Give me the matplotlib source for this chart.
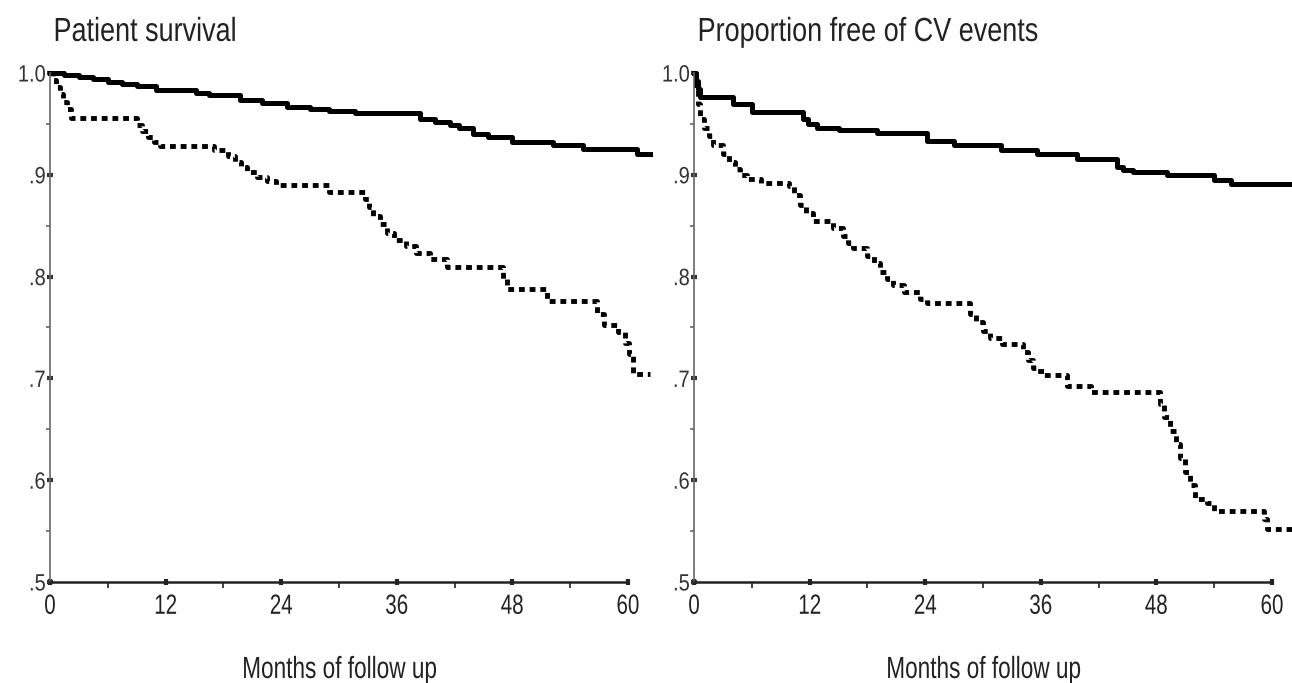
import matplotlib
matplotlib.use("Agg")
import matplotlib.pyplot as plt
from matplotlib.ticker import FixedLocator
from matplotlib.patheffects import AbstractPathEffect
from matplotlib.transforms import Affine2D, blended_transform_factory

plt.rcParams['font.family'] = ['Liberation Sans', 'DejaVu Sans']

# --- data (Kaplan-Meier steps: time in months, proportion) ---
surv_t_a = [0, 1.5, 3, 4.5, 6, 7.5, 9, 11, 15.2, 16.5, 19.7, 22, 24.6, 27, 29, 31.7,
            38.4, 40, 41.5, 42.5, 43.9, 45.5, 48, 52.2, 55.3, 61, 62.3]
surv_v_a = [1.0, 0.998, 0.996, 0.994, 0.991, 0.989, 0.987, 0.983, 0.980, 0.978, 0.973,
            0.971, 0.967, 0.965, 0.963, 0.961, 0.955, 0.952, 0.949, 0.946, 0.940, 0.937,
            0.932, 0.929, 0.925, 0.920, 0.920]

surv_t_b = [0, 0.3, 0.6, 1.0, 1.4, 1.8, 2.2, 9, 9.6, 10.2, 10.8, 11.4, 17, 18.5, 19.2,
            19.8, 20.5, 21.5, 22.5, 23.5, 29, 32.7, 33.1, 33.5, 34.3, 35, 35.7, 37, 38,
            39.5, 41.2, 47, 47.5, 51.6, 56.8, 57.5, 59, 59.7, 60.1, 60.5, 62.3]
surv_v_b = [1.0, 0.993, 0.986, 0.979, 0.972, 0.965, 0.956, 0.949, 0.943, 0.937, 0.932,
            0.928, 0.924, 0.918, 0.913, 0.908, 0.903, 0.898, 0.894, 0.890, 0.883, 0.876,
            0.868, 0.860, 0.852, 0.843, 0.836, 0.830, 0.823, 0.817, 0.809, 0.798, 0.788,
            0.776, 0.763, 0.752, 0.746, 0.735, 0.724, 0.704, 0.704]

cv_t_a = [0, 0.2, 0.4, 0.6, 4, 6, 11.3, 11.8, 12.8, 15, 19, 24.2, 27, 31.9, 35.6, 39.8,
          43.9, 44.5, 45.6, 49.1, 54, 55.7, 62.5]
cv_v_a = [1.0, 0.992, 0.984, 0.976, 0.970, 0.962, 0.955, 0.950, 0.946, 0.944, 0.941,
          0.933, 0.929, 0.924, 0.920, 0.916, 0.908, 0.905, 0.903, 0.900, 0.895, 0.891, 0.891]

cv_t_b = [0, 0.2, 0.4, 0.6, 1.0, 1.5, 2, 3, 3.6, 4.2, 4.8, 5.5, 7, 9.9, 10.4, 11, 11.6,
          12.3, 14.4, 15.5, 16, 16.5, 18, 18.7, 19.3, 20, 20.7, 21.8, 23.5, 24.2, 28.7,
          29.3, 30, 30.7, 32, 34.2, 34.7, 35.2, 35.6, 36.3, 38.7, 41.2, 48.4, 48.8, 49.4,
          50, 50.5, 51, 51.5, 52, 53.3, 54, 59.2, 59.5, 62.5]
cv_v_b = [1.0, 0.985, 0.970, 0.955, 0.946, 0.938, 0.929, 0.920, 0.913, 0.906, 0.900,
          0.896, 0.892, 0.889, 0.880, 0.870, 0.862, 0.855, 0.848, 0.840, 0.833, 0.828,
          0.820, 0.813, 0.805, 0.798, 0.792, 0.785, 0.778, 0.774, 0.763, 0.755, 0.747,
          0.740, 0.734, 0.726, 0.718, 0.710, 0.707, 0.703, 0.693, 0.687, 0.675, 0.662,
          0.648, 0.636, 0.622, 0.608, 0.595, 0.582, 0.578, 0.570, 0.562, 0.552, 0.552]

titles = ["Patient survival", "Proportion free of CV events"]
xlabel = "Months of follow up"
xticks = [0, 12, 24, 36, 48, 60]
yticks = [0.5, 0.6, 0.7, 0.8, 0.9, 1.0]
ytick_labels = [".5", ".6", ".7", ".8", ".9", "1.0"]


class Squeeze(AbstractPathEffect):
    """squeeze text horizontally, the original uses a narrow font"""

    def __init__(self, sx, anchor=0.0):
        super().__init__()
        self.sx = sx
        self.anchor = anchor

    def draw_path(self, renderer, gc, tpath, affine, rgbFace=None):
        ext = tpath.get_extents()
        x0 = ext.x0 + self.anchor * ext.width
        t = Affine2D().translate(-x0, 0).scale(self.sx, 1).translate(x0, 0)
        renderer.draw_path(gc, tpath, t + affine, rgbFace)


fig = plt.figure(figsize=(12.92, 6.83), dpi=100)
ax1 = fig.add_axes([0.0387, 0.1479, 0.4659, 0.7452])
ax2 = fig.add_axes([0.5372, 0.1479, 0.4659, 0.7452])

panels = [(ax1, surv_t_a, surv_v_a, surv_t_b, surv_v_b, titles[0]),
          (ax2, cv_t_a, cv_v_a, cv_t_b, cv_v_b, titles[1])]

for ax, ta, va, tb, vb, title in panels:
    ax.step(ta, va, where='post', color='black', lw=3.6, clip_on=False)
    ax.step(tb, vb, where='post', color='black', lw=3.5, clip_on=False,
            linestyle=(0, (1.2, 1.0)), dash_capstyle='butt')

    ax.set_xlim(0, 62.5)
    ax.set_ylim(0.5, 1.0)
    for s in ['top', 'right']:
        ax.spines[s].set_visible(False)
    ax.spines['bottom'].set_bounds(0, 60)
    ax.spines['bottom'].set_color('#222222')
    ax.spines['bottom'].set_linewidth(1.8)
    ax.spines['left'].set_color('#666666')
    ax.spines['left'].set_linewidth(1.2)

    ax.set_xticks(xticks)
    ax.set_xticklabels([str(x) for x in xticks])
    ax.xaxis.set_minor_locator(FixedLocator([6, 18, 30, 42, 54]))
    ax.set_yticks(yticks)
    ax.set_yticklabels(ytick_labels)
    ax.yaxis.set_minor_locator(FixedLocator([0.55, 0.65, 0.75, 0.85, 0.95]))

    ax.tick_params(axis='x', which='major', direction='inout', length=5, width=3,
                   labelsize=20, pad=6, colors='#222222')
    ax.tick_params(axis='x', which='minor', direction='out', length=4, width=1.3,
                   colors='#333333')
    ax.tick_params(axis='y', which='major', direction='inout', length=4, width=3,
                   labelsize=17, pad=1, colors='#333333')
    ax.tick_params(axis='y', which='minor', direction='out', length=3, width=1.2,
                   colors='#666666')
    for lab in ax.get_xticklabels():
        lab.set_path_effects([Squeeze(0.74, 0.5)])
    for lab in ax.get_yticklabels():
        lab.set_path_effects([Squeeze(0.85, 1.0)])

    trans = blended_transform_factory(ax.transData, ax.transAxes)
    ax.text(30, -0.1886, xlabel, transform=trans, fontsize=22, color='#222222',
            ha='center', va='baseline', path_effects=[Squeeze(0.74, 0.5)])
    ax.text(0.005, 1.063, title, transform=ax.transAxes, fontsize=24,
            color='#222222', ha='left', va='baseline', path_effects=[Squeeze(0.81, 0.0)])

fig.savefig("out.png", dpi=100)
